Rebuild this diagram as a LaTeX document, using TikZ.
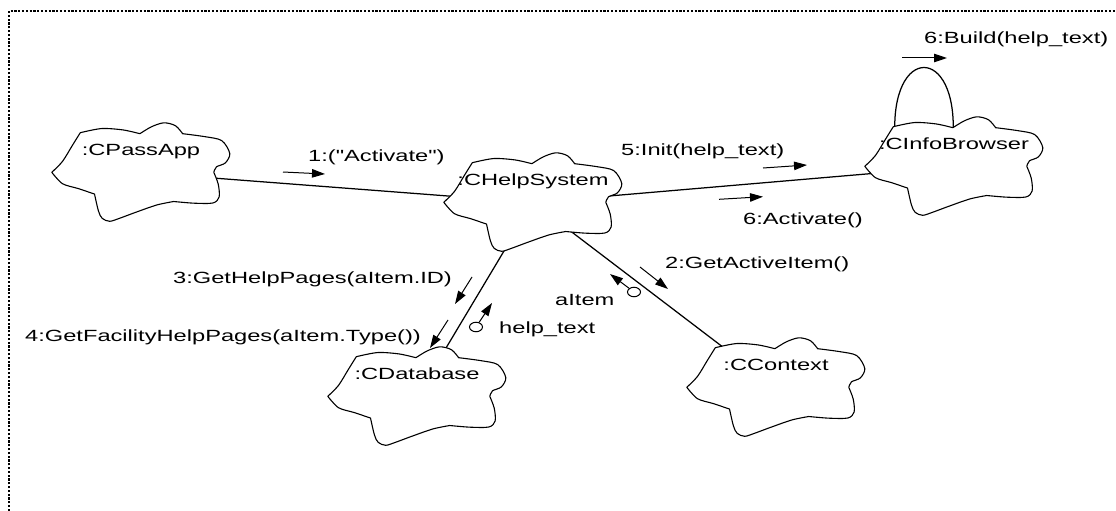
\documentclass[tikz,border=0pt]{standalone}
\usepackage{fontspec}
\setmainfont{Liberation Sans}[FakeStretch=1.46, Ligatures=TeXOff]
\usetikzlibrary{arrows.meta,calc,shapes.geometric}
\pgfdeclarelayer{links}
\pgfsetlayers{links,main}

\tikzset{
  objbox/.style={draw=none, minimum width=178pt, minimum height=99pt, inner sep=0pt},
  objname/.style={anchor=base, inner sep=0pt, font=\fontsize{16.2}{19}\selectfont},
  msgtext/.style={anchor=base west, inner sep=0pt, font=\fontsize{16.2}{19}\selectfont},
  link/.style={line width=1.25pt},
  msg/.style={line width=1pt, -{Triangle[length=13pt,width=8.5pt]}},
  token/.style={ellipse, draw, line width=1pt, minimum width=13pt, minimum height=9.5pt, inner sep=0pt},
  cloudline/.style={draw=black, fill=white, line width=1.1pt, line join=round},
  frameline/.style={line width=2.8pt, dash pattern=on 2.2pt off 1.6pt},
}

% Booch-style object cloud drawn over the (invisible) box node #1:
% convex scallops that meet in small cusps
\newcommand\objcloud[2]{%
  \begin{scope}[shift={(#1.north west)}, x=178pt, y=-99pt]
    \path[cloudline]
      plot[smooth] coordinates {(0.000,0.500) (0.060,0.390) (0.115,0.230) (0.160,0.100)}
      -- plot[smooth] coordinates {(0.160,0.100) (0.280,0.058) (0.400,0.072) (0.495,0.110)}
      -- plot[smooth] coordinates {(0.495,0.110) (0.560,0.040) (0.630,0.000) (0.695,0.030) (0.735,0.110)}
      -- plot[smooth] coordinates {(0.735,0.110) (0.860,0.140) (0.955,0.180) (1.000,0.310) (0.975,0.405) (0.925,0.445) (0.910,0.500)}
      -- plot[smooth] coordinates {(0.910,0.500) (0.935,0.620) (0.940,0.750) (0.905,0.810) (0.800,0.812) (0.685,0.795)}
      -- plot[smooth] coordinates {(0.685,0.795) (0.590,0.830) (0.470,0.905) (0.380,0.965) (0.325,0.995) (0.283,0.965) (0.262,0.890) (0.240,0.720)}
      -- plot[smooth] coordinates {(0.240,0.720) (0.150,0.665) (0.060,0.615) (0.000,0.500)}
      -- cycle;
  \end{scope}
  \node[objname] (#1-name) at ($(#1.north)+(0,33)$) {#2};
}

\begin{document}
\begin{tikzpicture}[x=1pt, y=-1pt]
  \useasboundingbox (0,0) rectangle (1116,511);

  % frame
  \draw[frameline] (9,511) -- (9,11) -- (1116,11);

  % objects
  \node[objbox] (ps) at (141,172.5) {};
  \node[objbox] (hs) at (533,202.5) {};
  \node[objbox] (ib) at (954,166.5) {};
  \node[objbox] (db) at (417,396.5) {};
  \node[objbox] (cx) at (776,387.5) {};
  \objcloud{ps}{:CPassApp}
  \objcloud{hs}{:CHelpSystem}
  \objcloud{ib}{:CInfoBrowser}
  \objcloud{db}{:CDatabase}
  \objcloud{cx}{:CContext}

  % links (behind the clouds)
  \begin{pgfonlayer}{links}
    \draw[link] (ps.center) -- (hs.center);
    \draw[link] (hs.center) -- (ib.center);
    \draw[link] (hs.center) -- (db.center);
    \draw[link] (hs.center) -- (cx.center);
    \draw[link] ($(ib.center)+(-59,-30)$) .. controls +(-5,-92) and +(5,-92) .. ($(ib.center)+(-1,-30)$);
  \end{pgfonlayer}

  % messages
  \node[msgtext] (m1) at (308,161) {1:("Activate")};
  \draw[msg] (283,172) -- (325,174);

  \node[msgtext] (m5) at (621,155) {5:Init(help\_text)};
  \draw[msg] (763,168) -- (807,165);

  \node[msgtext] (m6a) at (743,224) {6:Activate()};
  \draw[msg] (719,199.3) -- (763,196.7);

  \node[msgtext] (m6b) at (924,44) {6:Build(help\_text)};
  \draw[msg] (902,58) -- (947,58);

  \node[msgtext] (m3) at (173,283) {3:GetHelpPages(aItem.ID)};
  \draw[msg] (472,277) -- (455,304);

  \node[msgtext] (m4) at (25,341) {4:GetFacilityHelpPages(aItem.Type())};
  \draw[msg] (448,320) -- (430,348);

  \node[msgtext] (m2) at (665,268) {2:GetActiveItem()};
  \draw[msg] (640,267) -- (668,289);

  % returned data
  \node[token] (t1) at (476,327) {};
  \coordinate (t1tip) at (492,303);
  \draw[msg] (t1) -- (t1tip);
  \node[msgtext] (d1) at (499,333) {help\_text};

  \node[token] (t2) at (634,292) {};
  \coordinate (t2tip) at (610,274);
  \draw[msg] (t2) -- (t2tip);
  \node[msgtext] (d2) at (555,305) {aItem};
\end{tikzpicture}
\end{document}
